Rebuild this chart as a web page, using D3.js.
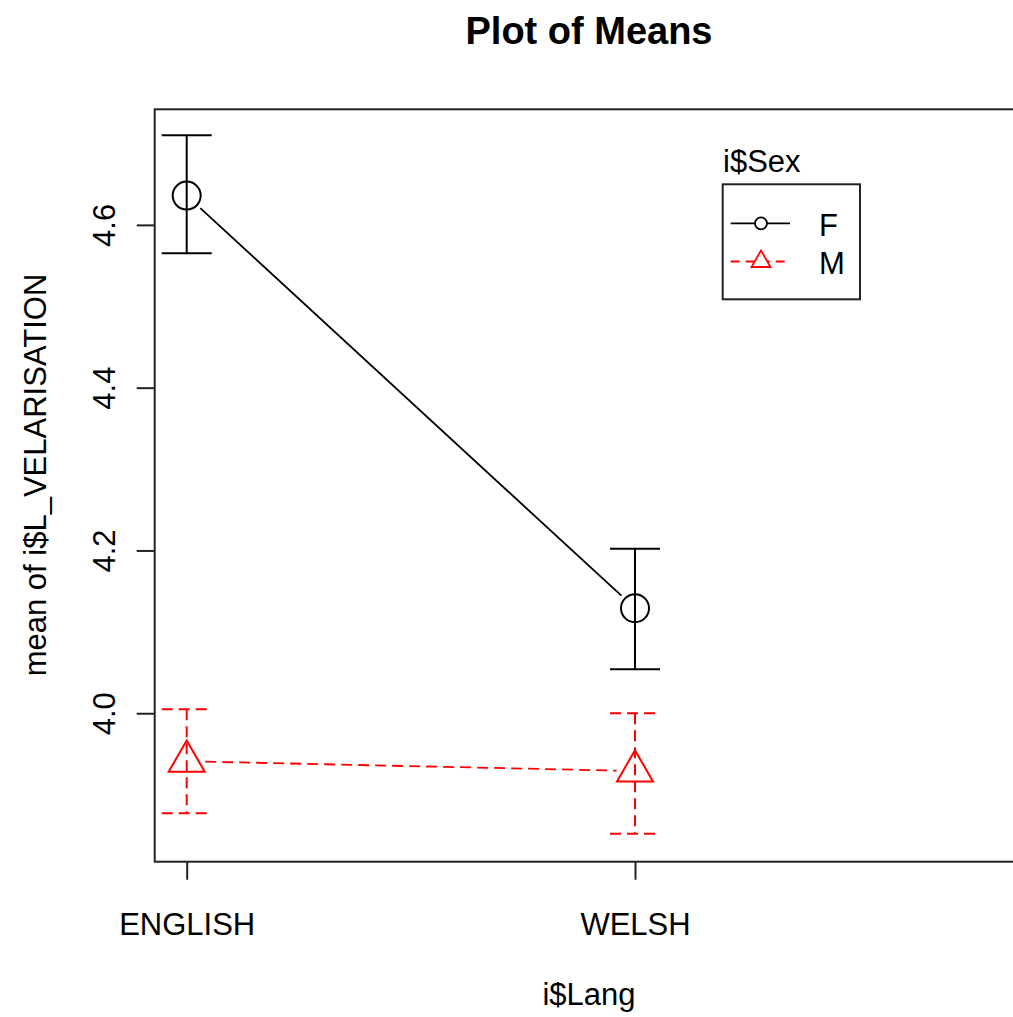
<!DOCTYPE html>
<html>
<head>
<meta charset="utf-8">
<script src="https://cdn.jsdelivr.net/npm/d3@7"></script>
<style>
  html, body { margin: 0; padding: 0; background: #fff; }
  svg { display: block; font-family: "Liberation Sans", Arial, sans-serif; }
</style>
</head>
<body>
<svg id="chart" width="1013" height="1017"></svg>
<script>
// Group means with +/- 1 SE bars, by language (x) and sex (series)
const languages = ["ENGLISH", "WELSH"];
const sexes = ["F", "M"];
const meansF = [4.636, 4.129];
const upperF = [4.710, 4.202];
const lowerF = [4.565, 4.054];
const meansM = [3.941, 3.929];
const upperM = [4.005, 4.000];
const lowerM = [3.877, 3.852];
const yTicks = [4.0, 4.2, 4.4, 4.6];

const series = [
  { name: sexes[0], mean: meansF, hi: upperF, lo: lowerF, color: "#000000", dash: null, shape: "circle" },
  { name: sexes[1], mean: meansM, hi: upperM, lo: lowerM, color: "#ff0000", dash: "11,6", shape: "triangle" }
];

const svg = d3.select("#chart");
const plot = { left: 154.7, top: 109.3, right: 1040, bottom: 861.7 };

const x = d3.scaleLinear().domain([1, 2]).range([186.7, 635]);
const y = d3.scaleLinear().domain([3.8176, 4.742]).range([plot.bottom, plot.top]);

// Title
svg.append("text")
  .attr("x", 589).attr("y", 44)
  .attr("text-anchor", "middle")
  .attr("font-size", 38).attr("font-weight", "bold")
  .text("Plot of Means");

// Axes
const yAxis = d3.axisLeft(y).tickValues(yTicks).tickFormat(d3.format(".1f")).tickSize(18).tickPadding(0);
const gy = svg.append("g").attr("transform", `translate(${plot.left},0)`).call(yAxis);
gy.select(".domain").remove();
gy.selectAll(".tick line").attr("stroke", "#222").attr("stroke-width", 2);
gy.selectAll(".tick text")
  .attr("font-size", 31).attr("fill", "#000")
  .attr("dy", null)
  .attr("text-anchor", "middle")
  .attr("transform", `translate(${115 - plot.left},0) rotate(-90)`)
  .attr("x", 0).attr("y", 0);

const xAxis = d3.axisBottom(x).tickValues([1, 2]).tickFormat((d, i) => languages[i]).tickSize(18).tickPadding(0);
const gx = svg.append("g").attr("transform", `translate(0,${plot.bottom})`).call(xAxis);
gx.select(".domain").remove();
gx.selectAll(".tick line").attr("stroke", "#222").attr("stroke-width", 2);
gx.selectAll(".tick text")
  .attr("font-size", 31).attr("fill", "#000")
  .attr("dy", null).attr("y", 935 - plot.bottom);

// Axis titles
svg.append("text")
  .attr("x", 589).attr("y", 1005)
  .attr("text-anchor", "middle").attr("font-size", 31)
  .text("i$Lang");
svg.append("text")
  .attr("transform", `translate(46,475) rotate(-90)`)
  .attr("text-anchor", "middle").attr("font-size", 31)
  .text("mean of i$L_VELARISATION");

// Plot frame
svg.append("rect")
  .attr("x", plot.left).attr("y", plot.top)
  .attr("width", plot.right - plot.left).attr("height", plot.bottom - plot.top)
  .attr("fill", "none").attr("stroke", "#222").attr("stroke-width", 2);

// Series
const gap = 18.5;
const capHalf = 25;
const triSide = 36;
const triSize = Math.sqrt(3) / 4 * triSide * triSide;

series.forEach(s => {
  const g = svg.append("g");
  const pts = s.mean.map((m, i) => [x(i + 1), y(m)]);

  // connecting segments, broken around the points
  for (let i = 0; i < pts.length - 1; i++) {
    const [x0, y0] = pts[i], [x1, y1] = pts[i + 1];
    const len = Math.hypot(x1 - x0, y1 - y0);
    const ux = (x1 - x0) / len, uy = (y1 - y0) / len;
    g.append("line")
      .attr("x1", x0 + ux * gap).attr("y1", y0 + uy * gap)
      .attr("x2", x1 - ux * gap).attr("y2", y1 - uy * gap)
      .attr("stroke", s.color).attr("stroke-width", 1.8)
      .attr("stroke-dasharray", s.dash);
  }

  // error bars
  s.mean.forEach((m, i) => {
    const cx = x(i + 1);
    g.append("line")
      .attr("x1", cx).attr("x2", cx)
      .attr("y1", y(s.hi[i])).attr("y2", y(s.lo[i]))
      .attr("stroke", s.color).attr("stroke-width", 2)
      .attr("stroke-dasharray", s.dash);
    [s.hi[i], s.lo[i]].forEach(v => {
      g.append("line")
        .attr("x1", cx - capHalf).attr("x2", cx + capHalf)
        .attr("y1", y(v)).attr("y2", y(v))
        .attr("stroke", s.color).attr("stroke-width", 2)
        .attr("stroke-dasharray", s.dash);
    });
  });

  // point markers
  pts.forEach(([px, py]) => {
    if (s.shape === "circle") {
      g.append("circle").attr("cx", px).attr("cy", py).attr("r", 14)
        .attr("fill", "none").attr("stroke", s.color).attr("stroke-width", 2);
    } else {
      g.append("path")
        .attr("d", d3.symbol().type(d3.symbolTriangle).size(triSize)())
        .attr("transform", `translate(${px},${py})`)
        .attr("fill", "none").attr("stroke", s.color).attr("stroke-width", 2);
    }
  });
});

// Legend
const leg = svg.append("g");
leg.append("text").attr("x", 723).attr("y", 171.5).attr("font-size", 31).text("i$Sex");
leg.append("rect").attr("x", 722.7).attr("y", 184.3).attr("width", 137.3).attr("height", 115)
  .attr("fill", "none").attr("stroke", "#222").attr("stroke-width", 2);
const rowY = [223.3, 261.5];
series.forEach((s, i) => {
  const ry = rowY[i];
  leg.append("line").attr("x1", 730.7).attr("x2", 790).attr("y1", ry).attr("y2", ry)
    .attr("stroke", s.color).attr("stroke-width", 1.8)
    .attr("stroke-dasharray", s.dash ? "9,6" : null);
  if (s.shape === "circle") {
    leg.append("circle").attr("cx", 761).attr("cy", ry).attr("r", 6)
      .attr("fill", "#fff").attr("stroke", s.color).attr("stroke-width", 1.8);
  } else {
    leg.append("path")
      .attr("d", d3.symbol().type(d3.symbolTriangle).size(Math.sqrt(3) / 4 * 19 * 19)())
      .attr("transform", `translate(761,${ry})`)
      .attr("fill", "#fff").attr("stroke", s.color).attr("stroke-width", 1.8);
  }
  leg.append("text").attr("x", 819).attr("y", ry + 12.5).attr("font-size", 31).text(s.name);
});
</script>
</body>
</html>
